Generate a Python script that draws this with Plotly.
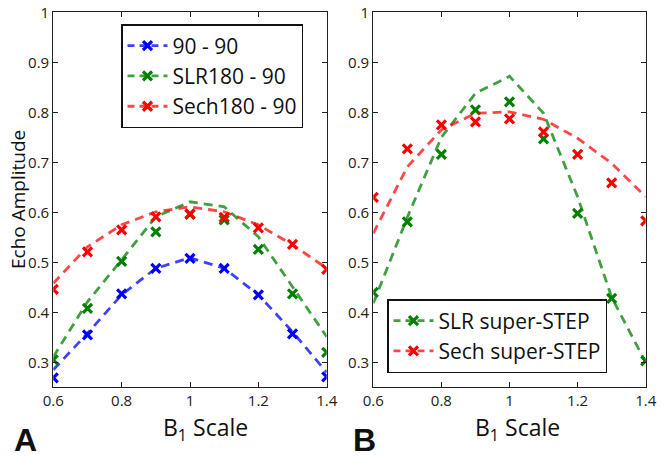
import plotly.graph_objects as go

# ---------------- data ----------------
b1 = [0.6, 0.7, 0.8, 0.9, 1.0, 1.1, 1.2, 1.3, 1.4]

# Panel A - measured (markers)
a_9090_meas = [0.269, 0.355, 0.437, 0.488, 0.508, 0.488, 0.435, 0.357, 0.271]
a_slr_meas = [0.305, 0.408, 0.502, 0.561, 0.596, 0.585, 0.526, 0.437, 0.320]
a_sech_meas = [0.446, 0.521, 0.565, 0.591, 0.597, 0.590, 0.569, 0.536, 0.486]
# Panel A - simulated (dashed lines)
a_9090_sim = [0.285, 0.358, 0.435, 0.488, 0.509, 0.488, 0.435, 0.361, 0.280]
a_slr_sim = [0.311, 0.421, 0.505, 0.591, 0.621, 0.611, 0.551, 0.451, 0.351]
a_sech_sim = [0.458, 0.531, 0.575, 0.601, 0.611, 0.601, 0.575, 0.535, 0.488]

# Panel B - measured (markers)
b_slr_meas = [0.440, 0.581, 0.716, 0.805, 0.821, 0.747, 0.598, 0.428, 0.303]
b_sech_meas = [0.630, 0.727, 0.775, 0.781, 0.787, 0.761, 0.716, 0.659, 0.583]
# Panel B - simulated (dashed lines)
b_slr_sim = [0.418, 0.590, 0.750, 0.838, 0.872, 0.798, 0.631, 0.430, 0.300]
b_sech_sim = [0.558, 0.691, 0.765, 0.798, 0.801, 0.786, 0.748, 0.698, 0.631]

x_ticks = [0.6, 0.8, 1.0, 1.2, 1.4]
x_ticklabels = ["0.6", "0.8", "1", "1.2", "1.4"]
y_ticks = [0.3, 0.4, 0.5, 0.6, 0.7, 0.8, 0.9, 1.0]
y_ticklabels = ["0.3", "0.4", "0.5", "0.6", "0.7", "0.8", "0.9", "1"]

legend_a = ["90 - 90", "SLR180 - 90", "Sech180 - 90"]
legend_b = ["SLR super-STEP", "Sech super-STEP"]

BLUE = "#0000ff"
GREEN = "#008000"
RED = "#ff0000"
LBLUE = "rgba(0,0,255,0.75)"
LGREEN = "rgba(0,128,0,0.75)"
LRED = "rgba(255,0,0,0.72)"

FONT = "Open Sans"
DASH = "9px,6px"

fig = go.Figure()


def add_series(xa, ya, sim, meas, col, lcol, name, legend):
    fig.add_trace(go.Scatter(x=b1, y=sim, mode="lines", xaxis=xa, yaxis=ya,
                             line=dict(color=lcol, width=2.8, dash=DASH),
                             showlegend=False, hoverinfo="skip"))
    fig.add_trace(go.Scatter(x=b1, y=meas, mode="markers", xaxis=xa, yaxis=ya,
                             marker=dict(symbol="x-thin", size=9, color=col,
                                         line=dict(color=col, width=3.2)),
                             showlegend=False))
    # legend entry
    fig.add_trace(go.Scatter(x=[None], y=[None], mode="lines+markers", xaxis=xa, yaxis=ya,
                             line=dict(color=lcol, width=2.8, dash="7px,5px"),
                             marker=dict(symbol="x-thin", size=9, color=col,
                                         line=dict(color=col, width=3.2)),
                             name=name, legend=legend, showlegend=True))


add_series("x", "y", a_9090_sim, a_9090_meas, BLUE, LBLUE, legend_a[0], "legend")
add_series("x", "y", a_slr_sim, a_slr_meas, GREEN, LGREEN, legend_a[1], "legend")
add_series("x", "y", a_sech_sim, a_sech_meas, RED, LRED, legend_a[2], "legend")
add_series("x2", "y2", b_slr_sim, b_slr_meas, GREEN, LGREEN, legend_b[0], "legend2")
add_series("x2", "y2", b_sech_sim, b_sech_meas, RED, LRED, legend_b[1], "legend2")

W, H = 664, 461
ydom = [(461 - 387.3) / H, (461 - 12.3) / H]

axis_common = dict(showgrid=False, zeroline=False, showline=True, linecolor="#222",
                   linewidth=1.2, mirror="ticks", ticks="inside", ticklen=5,
                   tickcolor="#222", automargin=False,
                   tickfont=dict(family=FONT, size=15, color="#222"))

fig.update_layout(
    template="none",
    width=W, height=H,
    margin=dict(l=0, r=0, t=0, b=0, pad=0, autoexpand=False),
    paper_bgcolor="white", plot_bgcolor="white",
    xaxis=dict(domain=[53.3 / W, 326.7 / W], range=[0.6, 1.4], tickvals=x_ticks,
               ticktext=x_ticklabels, anchor="y", **axis_common),
    yaxis=dict(domain=ydom, range=[0.25, 1.0], tickvals=y_ticks, ticktext=y_ticklabels,
               anchor="x", **axis_common),
    xaxis2=dict(domain=[373.3 / W, 645.7 / W], range=[0.6, 1.4], tickvals=x_ticks,
                ticktext=x_ticklabels, anchor="y2", **axis_common),
    yaxis2=dict(domain=ydom, range=[0.25, 1.0], tickvals=y_ticks, ticktext=y_ticklabels,
                anchor="x2", **axis_common),
    legend=dict(x=121 / W, y=1 - 24 / H, xanchor="left", yanchor="top",
                bgcolor="white", bordercolor="#111", borderwidth=1.5,
                font=dict(family=FONT, size=21, color="#111"), itemwidth=40,
                tracegroupgap=0),
    legend2=dict(x=387 / W, y=1 - 299 / H, xanchor="left", yanchor="top",
                 bgcolor="white", bordercolor="#111", borderwidth=1.5,
                 font=dict(family=FONT, size=21, color="#111"), itemwidth=40,
                 tracegroupgap=0),
    showlegend=True,
)

annots = [
    dict(text="Echo Amplitude", x=18, y=200, textangle=-90, size=19, bold=False),
    dict(text="B<sub>1</sub> Scale", x=205, y=428, textangle=0, size=23, bold=False),
    dict(text="B<sub>1</sub> Scale", x=517, y=428, textangle=0, size=23, bold=False),
    dict(text="<b>A</b>", x=25, y=440, textangle=0, size=32, bold=True),
    dict(text="<b>B</b>", x=365, y=440, textangle=0, size=32, bold=True),
]
for a in annots:
    fig.add_annotation(text=a["text"], x=a["x"] / W, y=1 - a["y"] / H, xref="paper",
                       yref="paper", showarrow=False, textangle=a["textangle"],
                       xanchor="center", yanchor="middle",
                       font=dict(family="Liberation Sans" if a["bold"] else FONT,
                                 size=a["size"], color="#111"))

fig.write_html("out.html", config={"displayModeBar": False},
               post_script="document.body.style.margin='0';document.body.style.padding='0';")
